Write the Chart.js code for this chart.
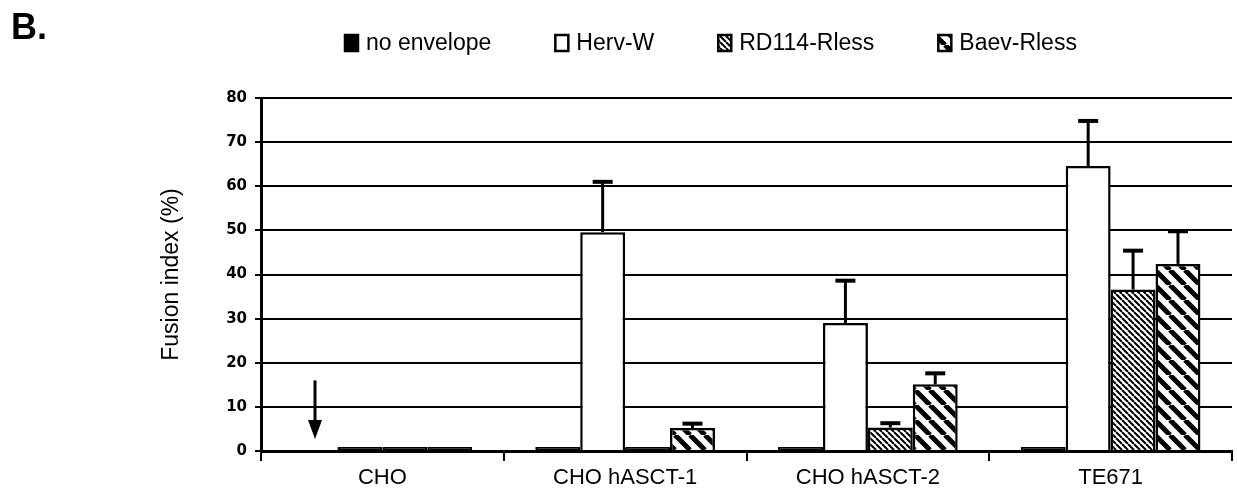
<!DOCTYPE html>
<html>
<head>
<meta charset="utf-8">
<script src="https://cdn.jsdelivr.net/npm/chart.js@4"></script>
<style>
    html, body { margin: 0; padding: 0; background: #fff; }
    #wrap { position: relative; width: 1237px; height: 492px; }
    #panel { position: absolute; left: 11px; top: 6px; font: bold 36px "Liberation Sans", Arial, sans-serif; color: #000; }
</style>
</head>
<body>
<div id="wrap">
    <canvas id="fusionChart" width="1237" height="492"></canvas>
    <div id="panel">B.</div>
</div>
<script>
// data
const CATEGORIES = ["CHO", "CHO hASCT-1", "CHO hASCT-2", "TE671"];
const SERIES = ["no envelope", "Herv-W", "RD114-Rless", "Baev-Rless"];
const NO_ENVELOPE = [0, 0.9, 0.9, 0.9];
const HERV_W = [0.9, 49.6, 29.0, 64.6];
const RD114_RLESS = [0.9, 0.9, 5.3, 36.6];
const BAEV_RLESS = [0.9, 5.2, 15.1, 42.4];
const HERV_W_ERR = [0, 11.4, 9.6, 10.2];
const RD114_RLESS_ERR = [0, 0, 1.0, 8.8];
const BAEV_RLESS_ERR = [0, 1.0, 2.5, 7.4];
const Y_TICKS = [0, 10, 20, 30, 40, 50, 60, 70, 80];
const ARROW_FROM = 16, ARROW_TO = 2.7;

const FONT = '"Liberation Sans", Arial, sans-serif';
const canvas = document.getElementById("fusionChart");
const context = canvas.getContext("2d");

const stripes = (size, width) => {
    const c = document.createElement("canvas");
    c.width = size;
    c.height = size;
    const g = c.getContext("2d");
    g.fillStyle = "#fff";
    g.fillRect(0, 0, size, size);
    g.strokeStyle = "#000";
    g.lineWidth = width;
    g.beginPath();
    for (let k = -1; k <= 1; k++) {
        g.moveTo(k * size, 0);
        g.lineTo(k * size + size, size);
    }
    g.stroke();
    return context.createPattern(c, "repeat");
};

const FILLS = ["#000", "#fff", stripes(6, 2), stripes(15, 5)];

// upward error bars
const errorBars = {
    id: "errorBars",
    afterDatasetsDraw(chart) {
        const ctx = chart.ctx;
        const y = chart.scales.y;
        chart.data.datasets.forEach((ds, i) => {
            if (!ds.errors) return;
            chart.getDatasetMeta(i).data.forEach((bar, j) => {
                const e = ds.errors[j];
                if (!e) return;
                const top = y.getPixelForValue(ds.data[j] + e);
                ctx.save();
                ctx.strokeStyle = "#000";
                ctx.lineWidth = 3;
                ctx.beginPath();
                ctx.moveTo(bar.x, bar.y);
                ctx.lineTo(bar.x, top);
                ctx.stroke();
                ctx.lineWidth = 4;
                ctx.beginPath();
                ctx.moveTo(bar.x - 10, top);
                ctx.lineTo(bar.x + 10, top);
                ctx.stroke();
                ctx.restore();
            });
        });
    }
};

// arrow over the missing "no envelope" bar of CHO
const arrow = {
    id: "arrow",
    afterDatasetsDraw(chart) {
        const ctx = chart.ctx;
        const y = chart.scales.y;
        const x = chart.getDatasetMeta(0).data[0].x;
        const y0 = y.getPixelForValue(ARROW_FROM);
        const y1 = y.getPixelForValue(ARROW_TO);
        ctx.save();
        ctx.strokeStyle = "#000";
        ctx.fillStyle = "#000";
        ctx.lineWidth = 3;
        ctx.beginPath();
        ctx.moveTo(x, y0);
        ctx.lineTo(x, y1 - 14);
        ctx.stroke();
        ctx.beginPath();
        ctx.moveTo(x - 7, y1 - 19);
        ctx.lineTo(x + 7, y1 - 19);
        ctx.lineTo(x, y1);
        ctx.closePath();
        ctx.fill();
        ctx.restore();
    }
};

// legend row across the top
const topLegend = {
    id: "topLegend",
    afterDraw(chart, args, opts) {
        const ctx = chart.ctx;
        ctx.save();
        ctx.font = opts.font;
        ctx.textBaseline = "middle";
        let x = opts.x;
        chart.data.datasets.forEach((ds, i) => {
            ctx.fillStyle = FILLS[i];
            ctx.fillRect(x, opts.y - opts.boxH / 2, opts.boxW, opts.boxH);
            ctx.strokeStyle = "#000";
            ctx.lineWidth = 2.5;
            ctx.strokeRect(x, opts.y - opts.boxH / 2, opts.boxW, opts.boxH);
            ctx.fillStyle = "#000";
            ctx.fillText(ds.label, x + opts.boxW + opts.textGap, opts.y + 1);
            x += opts.boxW + opts.textGap + ctx.measureText(ds.label).width + opts.gap;
        });
        ctx.restore();
    }
};

const VALUES = [NO_ENVELOPE, HERV_W, RD114_RLESS, BAEV_RLESS];
const ERRORS = [null, HERV_W_ERR, RD114_RLESS_ERR, BAEV_RLESS_ERR];

const myChart = new Chart(context, {
    type: "bar",
    data: {
        labels: CATEGORIES,
        datasets: SERIES.map((name, i) => ({
            label: name,
            data: VALUES[i],
            errors: ERRORS[i],
            // near-zero bars print as solid black slivers
            backgroundColor: c => (c.raw < 2 ? "#000" : FILLS[i]),
            borderColor: "#000",
            borderWidth: 2.5,
            categoryPercentage: 0.74,
            barPercentage: 1.0
        }))
    },
    options: {
        responsive: false,
        animation: false,
        layout: { padding: { left: 150, top: 98, right: 5, bottom: -3 } },
        plugins: {
            legend: { display: false },
            tooltip: { enabled: false },
            topLegend: { x: 345, y: 43, boxW: 13, boxH: 16, textGap: 8, gap: 64, font: "23px " + FONT }
        },
        scales: {
            x: {
                grid: { drawOnChartArea: false, color: "#000", lineWidth: 2, tickLength: 10 },
                border: { color: "#000", width: 3 },
                ticks: { color: "#000", padding: 6, font: { family: FONT, size: 22, lineHeight: 1 } }
            },
            y: {
                min: 0,
                max: 80,
                afterFit: s => { s.width = 111; },
                afterBuildTicks: s => { s.ticks = Y_TICKS.map(v => ({ value: v })); },
                grid: { color: "#000", lineWidth: 2, tickLength: 6 },
                border: { color: "#000", width: 3 },
                ticks: { color: "#000", padding: 8, font: { family: '"DejaVu Sans"', size: 15, weight: "bold" } },
                title: { display: true, text: "Fusion index (%)", color: "#000", padding: { top: 8, bottom: 0 }, font: { family: FONT, size: 23 } }
            }
        }
    },
    plugins: [errorBars, arrow, topLegend]
});
</script>
</body>
</html>
